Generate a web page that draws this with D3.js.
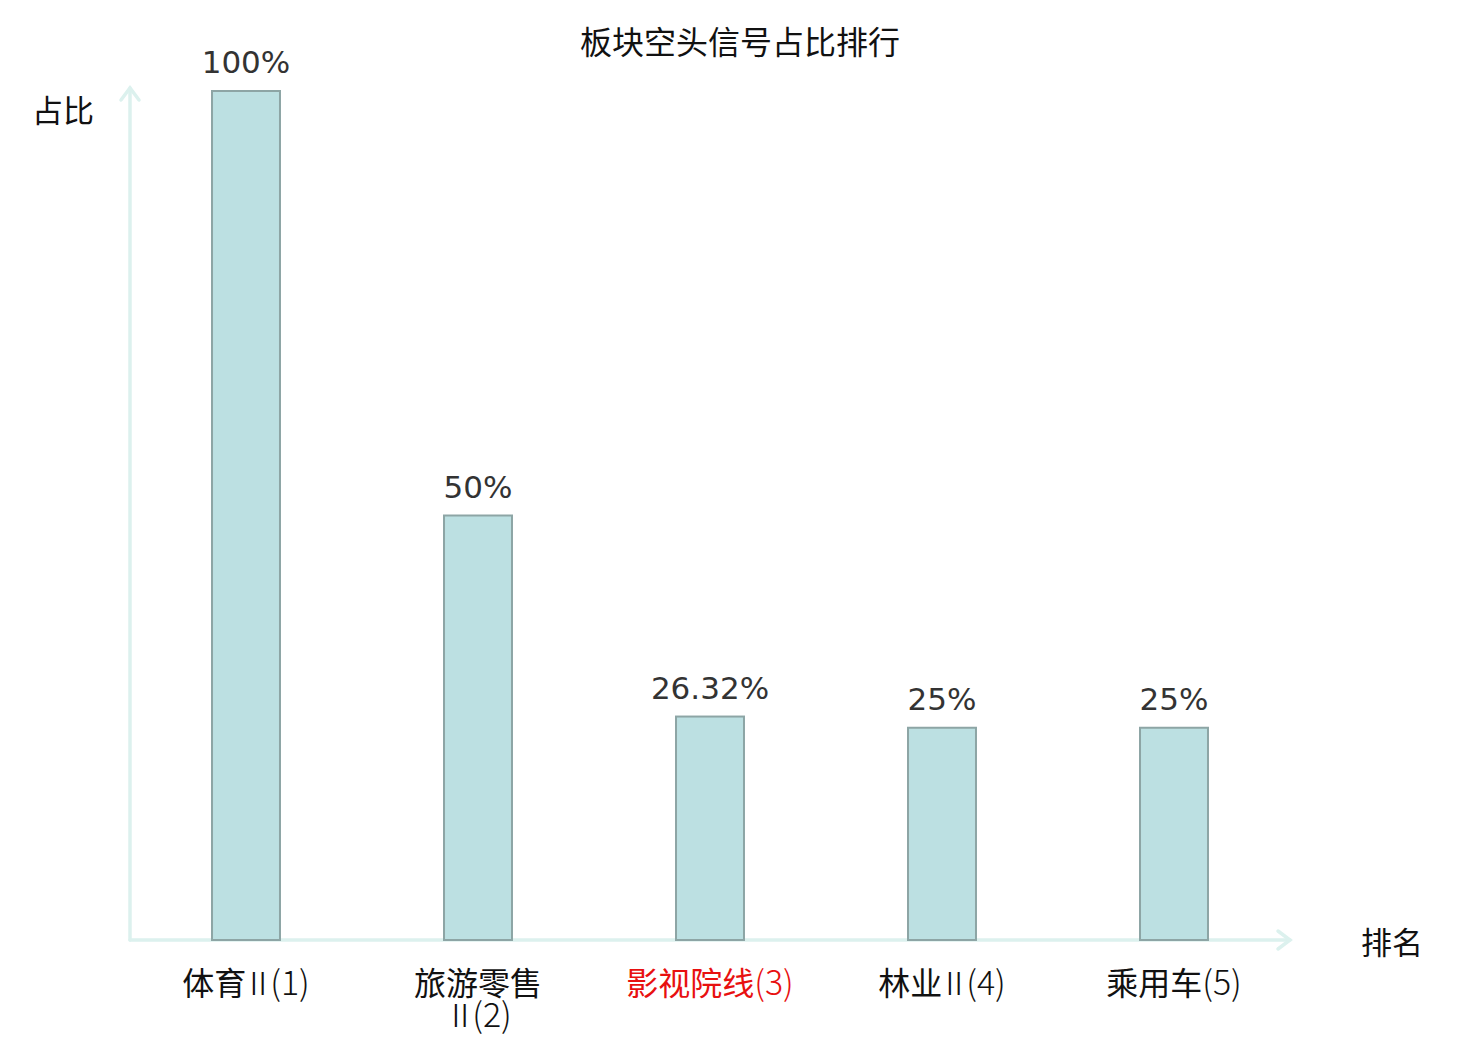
<!DOCTYPE html>
<html>
<head>
<meta charset="utf-8">
<script src="https://cdn.jsdelivr.net/npm/d3@7"></script>
<style>
  body { margin: 0; background: #fff; }
  svg text { font-family: "Noto Sans CJK SC", "DejaVu Sans", sans-serif; }
</style>
</head>
<body>
<svg width="1480" height="1040"></svg>
<script>
// data
var categories = ["体育Ⅱ(1)", "旅游零售Ⅱ(2)", "影视院线(3)", "林业Ⅱ(4)", "乘用车(5)"];
var values = [100, 50, 26.32, 25, 25];
var valueLabels = ["100%", "50%", "26.32%", "25%", "25%"];
var highlight = ["影视院线(3)"];

var svg = d3.select("svg");
var x0 = 130, x1 = 1290, yBase = 940, yTop = 91;

var x = d3.scaleBand()
    .domain(categories)
    .range([x0, x1])
    .paddingInner(0.707)
    .paddingOuter(0.3535);
var y = d3.scaleLinear()
    .domain([0, 100])
    .range([yBase, yTop]);

// 标题
svg.append("text")
    .attr("x", 740)
    .attr("y", 54)
    .attr("text-anchor", "middle")
    .attr("font-size", 32)
    .attr("fill", "#111")
    .text("板块空头信号占比排行");

// 坐标轴
var axisColor = "#dcf1ee";
var axis = svg.append("g")
    .attr("fill", "none")
    .attr("stroke", axisColor)
    .attr("stroke-width", 3.5)
    .attr("stroke-linecap", "round");
axis.append("path").attr("d", `M${x0},${yBase} V88`);
axis.append("path").attr("d", `M${x0 - 9},${100} L${x0},88 L${x0 + 9},${100}`);
axis.append("path").attr("d", `M${x0},${yBase} H1290`);
axis.append("path").attr("d", `M1278,${yBase - 9} L1290,${yBase} L1278,${yBase + 9}`);

svg.append("text")
    .attr("x", 63).attr("y", 122)
    .attr("text-anchor", "middle")
    .attr("font-size", 31)
    .attr("fill", "#111")
    .text("占比");
svg.append("text")
    .attr("x", 1392).attr("y", 954)
    .attr("text-anchor", "middle")
    .attr("font-size", 31)
    .attr("fill", "#111")
    .text("排名");

// 柱子
var bars = svg.selectAll("g.bar")
    .data(categories.map((c, i) => ({ name: c, value: values[i], label: valueLabels[i] })))
    .enter().append("g")
    .attr("class", "bar");

bars.append("rect")
    .attr("x", d => x(d.name))
    .attr("y", d => y(d.value))
    .attr("width", x.bandwidth())
    .attr("height", d => yBase - y(d.value))
    .attr("fill", "#bce0e2")
    .attr("stroke", "#8da5a5")
    .attr("stroke-width", 2);

bars.append("text")
    .attr("x", d => x(d.name) + x.bandwidth() / 2)
    .attr("y", d => y(d.value) - 18)
    .attr("text-anchor", "middle")
    .attr("font-size", 31)
    .attr("fill", "#333")
    .style("font-family", "'DejaVu Sans', sans-serif")
    .text(d => d.label);

// x轴标签, 四个字以上换行
function splitLabel(s) {
    var m = s.match(/^([\u4e00-\u9fff]+)(Ⅱ?)(.*)$/);
    return m ? [m[1], m[2], m[3]] : [s, "", ""];
}
bars.append("text")
    .attr("y", 995)
    .attr("text-anchor", "middle")
    .attr("font-size", 32)
    .attr("fill", d => highlight.includes(d.name) ? "#e81010" : "#111")
    .each(function (d) {
        var cx = x(d.name) + x.bandwidth() / 2;
        var p = splitLabel(d.name);
        var t = d3.select(this);
        var wrap = p[0].length >= 4 && p[1];
        t.append("tspan").attr("x", cx).text(p[0]);
        if (p[1]) {
            var r = t.append("tspan")
                .attr("font-weight", 300)
                .attr("letter-spacing", -6)
                .attr("dx", wrap ? 0 : -4)
                .text(p[1]);
            if (wrap) r.attr("x", cx).attr("dy", 32);
        }
        t.append("tspan")
            .attr("font-weight", 300)
            .attr("font-size", 34)
            .attr("dx", p[1] ? 2 : 0)
            .text(p[2]);
    });
</script>
</body>
</html>
